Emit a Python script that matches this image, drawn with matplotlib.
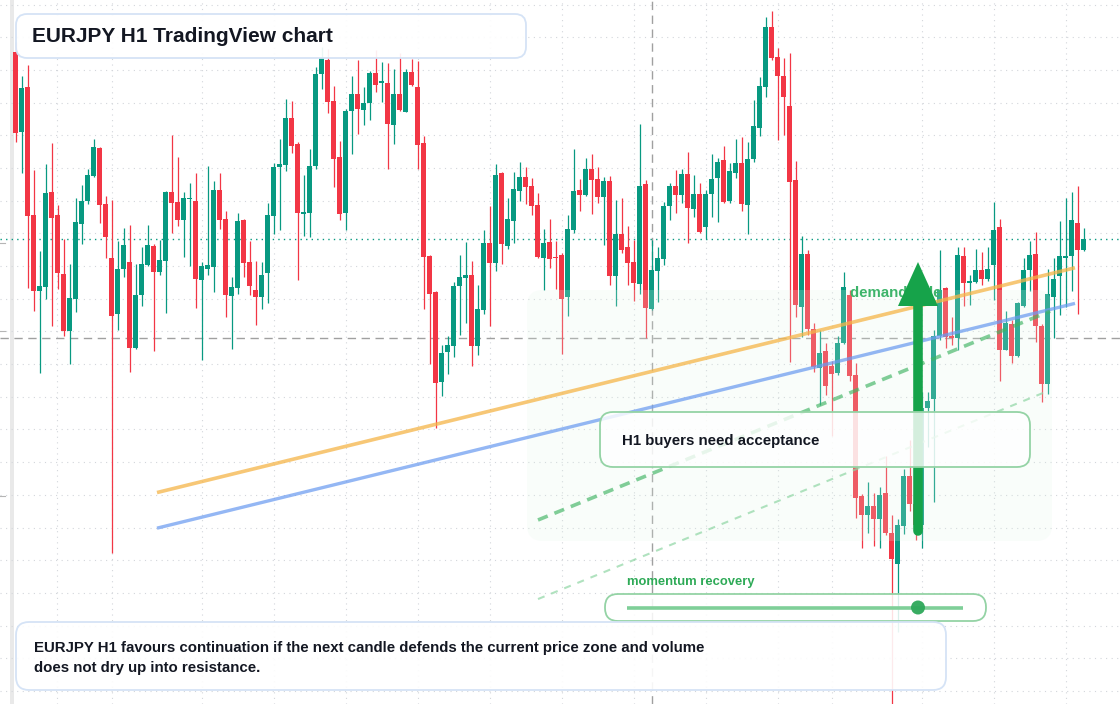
import numpy as np
import matplotlib
matplotlib.use("Agg")
import matplotlib.pyplot as plt
from matplotlib.patches import FancyBboxPatch, Polygon, Circle, Rectangle
from matplotlib.lines import Line2D
import matplotlib.transforms as mtransforms

W, H, DPI = 1120, 704, 100

# ---- EURJPY H1 candles, in chart points (BASE + points / PTS_PER_YEN = price)
BASE = 160.872
PTS_PER_YEN = 326.7
open_pts = [648, 568, 613, 485, 409, 413, 508, 485, 426, 369, 401, 476, 499, 524, 552, 496, 442, 386, 431, 438,
            352, 405, 435, 454, 428, 439, 508, 498, 480, 501, 499, 420, 431, 433, 510, 481, 404, 412, 480, 438,
            410, 403, 427, 484, 533, 535, 582, 556, 486, 487, 534, 626, 640, 599, 543, 487, 589, 606, 590, 597,
            627, 617, 617, 575, 606, 588, 628, 613, 557, 444, 408, 318, 348, 354, 414, 422, 425, 354, 390, 457,
            437, 527, 454, 479, 509, 523, 514, 495, 442, 458, 443, 445, 403, 470, 510, 505, 531, 521, 503, 519,
            424, 466, 453, 438, 416, 516, 391, 429, 441, 494, 514, 505, 526, 491, 506, 473, 506, 522, 540, 499,
            527, 537, 495, 541, 572, 613, 673, 643, 624, 594, 520, 393, 446, 371, 332, 349, 334, 327, 357, 405,
            325, 204, 185, 194, 181, 207, 167, 136, 174, 224, 196, 175, 292, 301, 364, 412, 364, 362, 444, 417,
            418, 430, 421, 435, 473, 350, 376, 344, 394, 430, 446, 374, 316, 403, 424, 442, 444, 477, 450]
high_pts = [658, 624, 635, 530, 449, 536, 557, 495, 461, 436, 502, 515, 531, 561, 553, 504, 500, 459, 472, 475,
            436, 453, 475, 456, 460, 509, 565, 543, 508, 517, 527, 438, 534, 519, 527, 489, 423, 487, 481, 459,
            439, 438, 497, 537, 561, 601, 599, 558, 525, 551, 633, 653, 651, 614, 559, 591, 624, 640, 613, 629,
            650, 638, 637, 631, 647, 631, 641, 639, 564, 445, 409, 355, 364, 418, 445, 458, 439, 415, 470, 494,
            536, 528, 502, 528, 538, 533, 522, 507, 471, 481, 459, 447, 485, 551, 521, 542, 546, 533, 523, 524,
            500, 502, 474, 460, 576, 520, 460, 453, 498, 517, 530, 531, 548, 525, 517, 510, 546, 542, 554, 537,
            561, 563, 558, 600, 623, 683, 689, 652, 642, 647, 539, 464, 450, 377, 370, 357, 339, 364, 428, 410,
            337, 206, 218, 207, 213, 244, 185, 181, 231, 260, 210, 308, 308, 370, 450, 413, 383, 453, 453, 425,
            451, 448, 453, 498, 481, 389, 380, 398, 442, 459, 468, 376, 431, 442, 479, 502, 508, 514, 472]
low_pts = [558, 527, 412, 389, 327, 401, 374, 411, 364, 336, 388, 456, 496, 523, 477, 442, 147, 370, 423, 328,
           351, 394, 434, 349, 425, 387, 467, 474, 443, 434, 392, 340, 425, 408, 471, 383, 351, 406, 423, 405,
           375, 391, 397, 466, 470, 529, 547, 420, 464, 463, 531, 611, 587, 513, 480, 470, 546, 566, 575, 580,
           608, 598, 531, 556, 589, 588, 614, 531, 391, 336, 272, 304, 326, 343, 365, 377, 334, 345, 386, 374,
           429, 436, 451, 457, 499, 496, 485, 442, 410, 432, 411, 346, 384, 467, 489, 504, 486, 497, 455, 415,
           394, 447, 415, 399, 406, 362, 390, 398, 435, 480, 487, 497, 457, 483, 467, 461, 483, 478, 497, 497,
           522, 489, 466, 538, 564, 603, 640, 560, 565, 338, 383, 363, 365, 328, 295, 305, 264, 325, 356, 319,
           182, 152, 167, 154, 152, 165, -4, 68, 166, 189, 160, 152, 253, 198, 360, 352, 355, 350, 394, 395,
           417, 415, 419, 400, 319, 350, 337, 343, 393, 409, 358, 298, 306, 362, 385, 393, 409, 386, 449]
close_pts = [567, 612, 484, 409, 414, 507, 482, 427, 369, 402, 478, 499, 525, 553, 495, 463, 384, 431, 455, 352,
             405, 436, 455, 428, 440, 508, 497, 480, 502, 502, 421, 434, 435, 510, 480, 405, 413, 479, 437, 414,
             403, 425, 485, 533, 536, 582, 554, 487, 488, 534, 626, 642, 598, 541, 486, 589, 606, 591, 597, 627,
             615, 619, 576, 606, 590, 628, 615, 555, 443, 406, 317, 347, 355, 414, 423, 425, 354, 391, 457, 437,
             525, 456, 481, 511, 523, 513, 494, 443, 457, 441, 442, 401, 471, 509, 505, 531, 520, 503, 519, 424,
             466, 450, 437, 417, 514, 392, 430, 442, 494, 514, 505, 526, 492, 506, 468, 506, 521, 538, 498, 529,
             537, 496, 541, 574, 614, 673, 642, 624, 603, 518, 395, 446, 371, 333, 347, 314, 326, 357, 413, 324,
             202, 185, 194, 181, 205, 167, 141, 175, 224, 196, 175, 292, 299, 364, 410, 363, 362, 445, 417, 419,
             430, 421, 431, 470, 350, 377, 344, 397, 430, 445, 374, 316, 406, 421, 444, 444, 480, 450, 461]

opens = BASE + np.array(open_pts) / PTS_PER_YEN
highs = BASE + np.array(high_pts) / PTS_PER_YEN
lows = BASE + np.array(low_pts) / PTS_PER_YEN
closes = BASE + np.array(close_pts) / PTS_PER_YEN
idx = np.arange(len(opens))

# price grid and time grid (candle index of vertical grid lines)
grid_prices = np.round(np.arange(160.9, 163.05, 0.1), 2)
time_grid_idx = [6.9, 16.05, 31.05, 43.05, 55.05, 67.05, 79.05, 91.05, 103.05, 115.05, 127.05, 136.05, 151.05, 163.05, 175.05]
crosshair_idx = 106
crosshair_price = 161.979

# trend / channel lines: (candle index, price)
orange_x, orange_p = [23.55, 176.55], [161.507, 162.195]
blue_x, blue_p = [23.55, 176.55], [161.398, 162.086]
green_dash_x, green_dash_p = [87.05, 172.4], [161.423, 162.062]
light_dash_x, light_dash_p = [87.05, 172.05], [161.181, 161.818]

UP, DOWN = "#089981", "#f23645"
FONT = ["Liberation Sans", "DejaVu Sans"]

fig = plt.figure(figsize=(W / DPI, H / DPI), dpi=DPI)
ax = fig.add_axes([0, 0, 1, 1])
ax.set_xlim(-15.7 / 6, (W - 15.7) / 6)
ax.set_ylim(BASE - 4 / PTS_PER_YEN, BASE + 700 / PTS_PER_YEN)
ax.axis("off")
fig.patch.set_facecolor("white")

PX = mtransforms.Affine2D().scale(1, -1).translate(0, H)  # pixel coords from top-left

# grid
for gp in grid_prices:
    ax.axhline(gp, color="#d3d6db", lw=0.8, ls=(0, (1, 4)), zorder=0)
for gx in time_grid_idx:
    ax.axvline(gx, color="#d3d6db", lw=0.8, ls=(0, (1, 4)), zorder=0)

# crosshair + last price
ax.axvline(crosshair_idx, color="#a0a0a0", lw=1.0, ls=(0, (6, 4)), zorder=1)
ax.axhline(crosshair_price, color="#a0a0a0", lw=1.0, ls=(0, (6, 4)), zorder=1)
ax.axhline(closes[-1], color=UP, lw=1.0, ls=(0, (1, 3)), zorder=1)

# left strip / ticks
fig.add_artist(Rectangle((10, 0), 4, H, transform=PX, color="#e9e9e9", lw=0, zorder=0))
for ty in [243, 331, 496]:
    fig.add_artist(Line2D([0, 5], [ty, ty], transform=PX, color="#b5b5b5", lw=0.8))

# candles
up = closes >= opens
cols = np.where(up, UP, DOWN)
ax.vlines(idx, lows, highs, colors=cols, lw=0.9, zorder=2)
body_lo = np.minimum(opens, closes)
body_h = np.maximum(np.abs(closes - opens), 1.2 / PTS_PER_YEN)
ax.bar(idx, body_h, bottom=body_lo, width=0.8, color=cols, lw=0, zorder=2)

# demand zone overlay
ax.add_artist(FancyBboxPatch((527, 290), 525, 251, boxstyle="round,pad=0,rounding_size=16",
                             transform=PX, facecolor="#e2f6e7", alpha=0.2, lw=0, zorder=3))

# lines
ax.plot(orange_x, orange_p, color="#f5b548", alpha=0.75, lw=2.6, solid_capstyle="butt", zorder=4)
ax.plot(blue_x, blue_p, color="#6b9bf0", alpha=0.72, lw=2.4, solid_capstyle="butt", zorder=4)
ax.plot(green_dash_x, green_dash_p, color="#3fb463", alpha=0.65, lw=2.6, ls=(0, (2.9, 2.0)), zorder=4)
ax.plot(light_dash_x, light_dash_p, color="#8fd6a4", alpha=0.7, lw=1.5, ls=(0, (3.4, 3.4)), zorder=4)

# demand zone label
fig.text(850, 293, "demand side", transform=PX, fontsize=10.8, fontweight="bold", color="#3db46a",
         family=FONT, ha="left", va="center", zorder=5)

# arrow
fig.add_artist(Line2D([918, 918], [306, 531], transform=PX, color="#16a34a", lw=6.9,
                      solid_capstyle="round", zorder=6))
fig.add_artist(Polygon([(898, 306), (938, 306), (918, 262)], closed=True, transform=PX,
                       facecolor="#16a34a", edgecolor="none", zorder=6))

# boxes
def box(x, y, w, h, ec, alpha, r=11, lw=1.3, z=7):
    fig.add_artist(FancyBboxPatch((x, y), w, h, boxstyle=f"round,pad=0,rounding_size={r}",
                                  transform=PX, facecolor=(1, 1, 1, alpha), edgecolor=ec, lw=lw, zorder=z))

box(16, 14, 510, 44, "#d5e3f6", 0.92)
fig.text(32, 36.5, "EURJPY H1 TradingView chart", transform=PX, fontsize=15, fontweight="bold",
         color="#131722", family=FONT, ha="left", va="center", zorder=8)

box(600, 412, 430, 55, "#94d3a5", 0.82, r=13)
fig.text(622, 441.5, "H1 buyers need acceptance", transform=PX, fontsize=10.8, fontweight="bold",
         color="#131722", family=FONT, ha="left", va="center", zorder=8)

fig.text(627, 582.5, "momentum recovery", transform=PX, fontsize=9.4, fontweight="bold",
         color="#2eaa57", family=FONT, ha="left", va="center", zorder=8)
box(605, 594, 381, 27, "#94d3a5", 0.85, r=13)
fig.add_artist(Line2D([627, 963], [607.5, 607.5], transform=PX, color="#7fcf98", lw=2.6,
                      solid_capstyle="butt", zorder=8))
fig.add_artist(Circle((918, 607.5), 7, transform=PX, facecolor="#2ea85a", edgecolor="none",
                      alpha=0.95, zorder=9))

box(16, 622, 930, 68, "#d5e3f6", 0.9, r=13)
fig.text(34, 648, "EURJPY H1 favours continuation if the next candle defends the current price zone and volume",
         transform=PX, fontsize=10.8, fontweight="bold", color="#131722", family=FONT, ha="left",
         va="center", zorder=8)
fig.text(34, 668, "does not dry up into resistance.", transform=PX, fontsize=10.8, fontweight="bold",
         color="#131722", family=FONT, ha="left", va="center", zorder=8)

fig.savefig("out.png", dpi=DPI, facecolor="white")
